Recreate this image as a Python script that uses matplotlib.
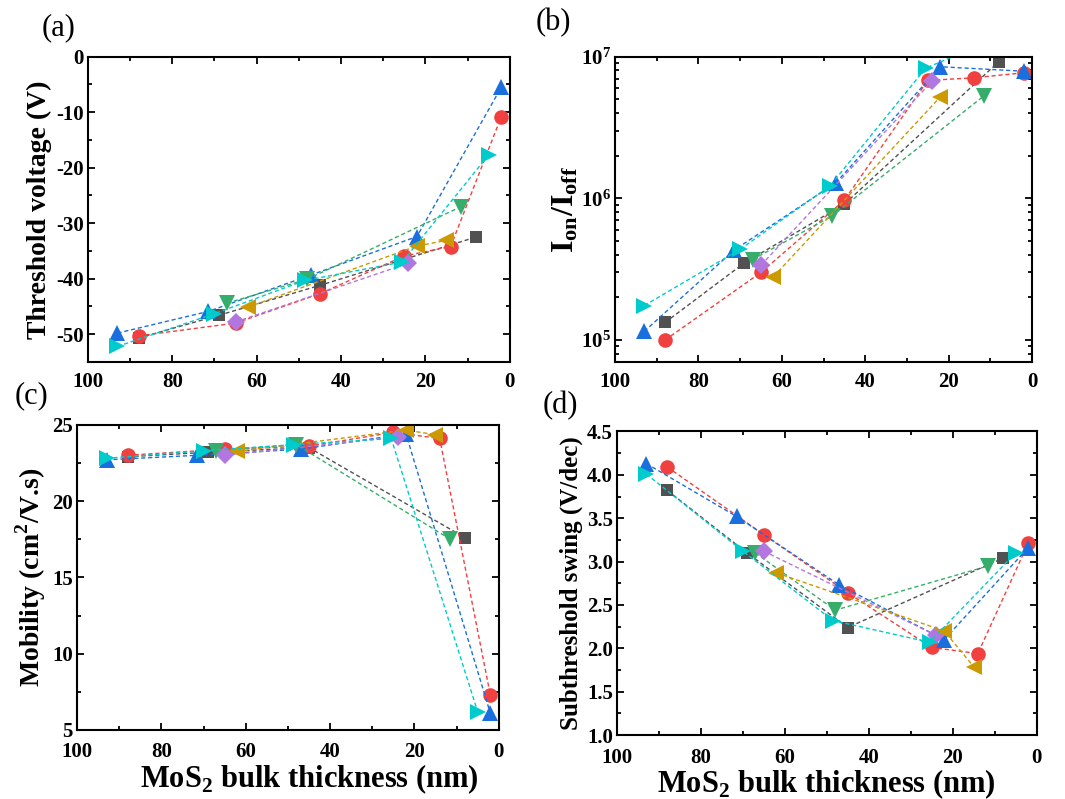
import matplotlib.pyplot as plt
import numpy as np
from matplotlib.ticker import MultipleLocator, LogLocator, NullFormatter

plt.rcParams['font.family'] = ['Liberation Serif', 'DejaVu Serif']
plt.rcParams['mathtext.fontset'] = 'custom'
plt.rcParams['mathtext.rm'] = 'Liberation Serif'
plt.rcParams['mathtext.bf'] = 'Liberation Serif:bold'
plt.rcParams['axes.unicode_minus'] = False

# thickness (nm) of each device at each thinning step
x_black = [88, 69, 45, 8]
x_red = [88, 65, 45, 25, 14, 2]
x_blue = [93, 71.5, 47, 22, 2]
x_green = [67, 48, 11.5]
x_purple = [65, 24]
x_yellow = [62, 22, 15]
x_cyan = [93, 70, 48.5, 25.5, 5]

# (a) threshold voltage (V)
vth_black = [-50.7, -46.6, -41.2, -32.5]
vth_red = [-50.3, -48.0, -42.7, -35.9, -34.2, -10.8]
vth_blue = [-49.8, -45.9, -39.3, -32.4, -5.5]
vth_green = [-44.4, -40.1, -27.0]
vth_purple = [-47.8, -37.2]
vth_yellow = [-45.1, -34.1, -33.1]
vth_cyan = [-52.2, -46.3, -40.3, -37.0, -17.7]

# (b) on/off ratio
onoff_black = [1.33e5, 3.5e5, 9.1e5, 9.2e6]
onoff_red = [1.0e5, 3.0e5, 9.7e5, 6.8e6, 7.1e6, 7.7e6]
onoff_blue = [1.15e5, 4.3e5, 1.29e6, 8.5e6, 7.9e6]
onoff_green = [3.7e5, 7.5e5, 5.3e6]
onoff_purple = [3.37e5, 6.7e6]
onoff_yellow = [2.8e5, 5.2e6, np.nan]
onoff_cyan = [1.75e5, 4.37e5, 1.22e6, 8.3e6, 1.5e7]

# (c) mobility (cm2/V.s)
mob_black = [22.9, 23.2, 23.5, 17.6]
mob_red = [23.0, 23.4, 23.6, 24.5, 24.1, 7.3]
mob_blue = [22.7, 23.0, 23.4, 24.4, 6.1]
mob_green = [23.3, 23.7, 17.5]
mob_purple = [23.0, 24.2]
mob_yellow = [23.25, 24.65, 24.35]
mob_cyan = [22.8, 23.3, 23.7, 24.1, 6.2]

# (d) subthreshold swing (V/dec)
ss_black = [3.82, 3.10, 2.24, 3.04]
ss_red = [4.09, 3.31, 2.64, 2.01, 1.94, 3.21]
ss_blue = [4.13, 3.52, 2.73, 2.10, 3.16]
ss_green = [3.10, 2.44, 2.95]
ss_purple = [3.12, 2.15]
ss_yellow = [2.87, 2.20, 1.79]
ss_cyan = [4.01, 3.12, 2.32, 2.07, 3.10]

xs = [x_black, x_red, x_blue, x_green, x_purple, x_yellow, x_cyan]
colors = ['#515151', '#F14040', '#1A6FDF', '#37AD6B', '#B177DE', '#CC9900', '#00CBCC']
markers = ['s', 'o', '^', 'v', 'D', '<', '>']
msizes = [9, 10.5, 11, 11, 9.5, 11, 11]

panels = [
    ([vth_black, vth_red, vth_blue, vth_green, vth_purple, vth_yellow, vth_cyan],
     'Threshold voltage (V)', (-55, 0), 10, 5, [0.0826, 0.547, 0.396, 0.382], '(a)', (42, 13)),
    ([onoff_black, onoff_red, onoff_blue, onoff_green, onoff_purple, onoff_yellow, onoff_cyan],
     r'$\mathbf{I_{on}/I_{off}}$', (7e4, 1e7), None, None, [0.5775, 0.547, 0.3915, 0.382], '(b)', (536, 8)),
    ([mob_black, mob_red, mob_blue, mob_green, mob_purple, mob_yellow, mob_cyan],
     r'Mobility (cm$^\mathbf{2}$/V.s)', (5, 25), 5, 2.5, [0.0723, 0.0864, 0.396, 0.382], '(c)', (15, 381)),
    ([ss_black, ss_red, ss_blue, ss_green, ss_purple, ss_yellow, ss_cyan],
     'Subthreshold swing (V/dec)', (1.0, 4.5), 0.5, 0.25, [0.5793, 0.080, 0.394, 0.380], '(d)', (543, 391)),
]

W, H = 1065, 799
fig = plt.figure(figsize=(W / 100, H / 100), dpi=100)

for k, (ys, ylab, ylim, major, minor, pos, tag, tagxy) in enumerate(panels):
    ax = fig.add_axes(pos)
    for x, y, c, m, ms in zip(xs, ys, colors, markers, msizes):
        n = min(len(x), len(y))
        ax.plot(x[:n], y[:n], ls=(0, (3, 2)), lw=1, color=c, marker=m,
                markersize=ms, markeredgewidth=0)
    ax.set_xlim(100, 0)
    ax.xaxis.set_major_locator(MultipleLocator(20))
    ax.xaxis.set_minor_locator(MultipleLocator(10))
    if major is None:
        ax.set_yscale('log')
        ax.set_ylim(*ylim)
        ax.yaxis.set_major_locator(LogLocator(base=10, numticks=10))
        ax.yaxis.set_minor_locator(LogLocator(base=10, subs=np.arange(2, 10), numticks=10))
        ax.yaxis.set_minor_formatter(NullFormatter())
        ax.set_ylabel(ylab, fontsize=23, fontweight='bold', labelpad=0)
    else:
        ax.set_ylim(*ylim)
        ax.yaxis.set_major_locator(MultipleLocator(major))
        ax.yaxis.set_minor_locator(MultipleLocator(minor))
        ax.set_ylabel(ylab, fontsize=20 if k != 3 else 18, fontweight='bold', labelpad=3)
    if k == 3:
        ax.yaxis.set_major_formatter(plt.FormatStrFormatter('%.1f'))
    ax.tick_params(which='both', direction='in', top=True, right=True, width=1.3)
    ax.tick_params(which='major', length=5)
    ax.tick_params(axis='x', which='major', pad=9 if k >= 2 else 7)
    ax.tick_params(axis='y', which='major', pad=3)
    ax.tick_params(which='minor', length=3)
    for lab in ax.get_xticklabels() + ax.get_yticklabels():
        lab.set_fontweight('bold')
        lab.set_fontsize(15)
    for s in ax.spines.values():
        s.set_linewidth(1.5)
    if k >= 2:
        ax.set_xlabel(r'MoS$_\mathbf{2}$ bulk thickness (nm)', fontsize=22,
                      fontweight='bold', labelpad=0)
        if k == 2:
            ax.xaxis.set_label_coords(0.55, -0.105)
    fig.text(tagxy[0] / W, 1 - tagxy[1] / H, tag, fontsize=22, va='top')

fig.savefig('out.png', dpi=100)
